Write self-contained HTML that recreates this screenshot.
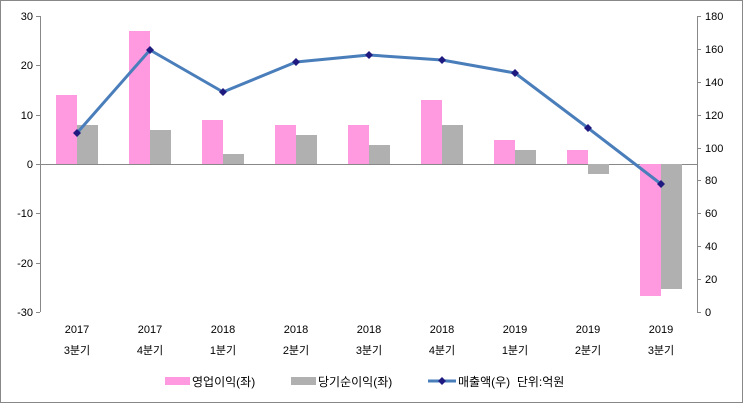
<!DOCTYPE html><html><head><style>body{margin:0;background:#fff}svg{display:block}text{font-family:"Liberation Sans","Noto Sans CJK KR",sans-serif;fill:#000}</style></head><body>
<svg width="743" height="403" viewBox="0 0 743 403">
<rect x="0.5" y="0.5" width="742" height="402" fill="#fff" stroke="#888"/>
<g stroke="#888" stroke-width="1">
<line x1="40.5" y1="16" x2="40.5" y2="312"/><line x1="697.5" y1="16" x2="697.5" y2="312"/>
<line x1="40" y1="164.5" x2="697" y2="164.5"/>
<line x1="36" y1="16.5" x2="40" y2="16.5"/><line x1="36" y1="65.5" x2="40" y2="65.5"/><line x1="36" y1="115.5" x2="40" y2="115.5"/><line x1="36" y1="164.5" x2="40" y2="164.5"/><line x1="36" y1="213.5" x2="40" y2="213.5"/><line x1="36" y1="263.5" x2="40" y2="263.5"/><line x1="36" y1="312.5" x2="40" y2="312.5"/>
<line x1="697" y1="16.5" x2="701" y2="16.5"/><line x1="697" y1="49.5" x2="701" y2="49.5"/><line x1="697" y1="82.5" x2="701" y2="82.5"/><line x1="697" y1="115.5" x2="701" y2="115.5"/><line x1="697" y1="148.5" x2="701" y2="148.5"/><line x1="697" y1="180.5" x2="701" y2="180.5"/><line x1="697" y1="213.5" x2="701" y2="213.5"/><line x1="697" y1="246.5" x2="701" y2="246.5"/><line x1="697" y1="279.5" x2="701" y2="279.5"/><line x1="697" y1="312.5" x2="701" y2="312.5"/>
</g>
<g font-size="11" text-anchor="end">
<text x="33" y="20">30</text><text x="33" y="69">20</text><text x="33" y="119">10</text><text x="33" y="168">0</text><text x="33" y="217">-10</text><text x="33" y="267">-20</text><text x="33" y="316">-30</text>
</g>
<g font-size="11" text-anchor="start">
<text x="705" y="20">180</text><text x="705" y="53">160</text><text x="705" y="86">140</text><text x="705" y="119">120</text><text x="705" y="152">100</text><text x="705" y="184">80</text><text x="705" y="217">60</text><text x="705" y="250">40</text><text x="705" y="283">20</text><text x="705" y="316">0</text>
</g>
<g fill="#ff99e0">
<rect x="56" y="95" width="21" height="69"/><rect x="129" y="31" width="21" height="133"/><rect x="202" y="120" width="21" height="44"/><rect x="275" y="125" width="21" height="39"/><rect x="348" y="125" width="21" height="39"/><rect x="421" y="100" width="21" height="64"/><rect x="494" y="140" width="21" height="24"/><rect x="567" y="150" width="21" height="14"/><rect x="640" y="164" width="21" height="132"/>
</g>
<g fill="#b0b0b0">
<rect x="77" y="125" width="21" height="39"/><rect x="150" y="130" width="21" height="34"/><rect x="223" y="154" width="21" height="10"/><rect x="296" y="135" width="21" height="29"/><rect x="369" y="145" width="21" height="19"/><rect x="442" y="125" width="21" height="39"/><rect x="515" y="150" width="21" height="14"/><rect x="588" y="164" width="21" height="10"/><rect x="661" y="164" width="21" height="125"/>
</g>
<polyline fill="none" stroke="#4a7ebb" stroke-width="3" stroke-linejoin="round" points="77,133 150,50 223,92 296,62 369,55 442,60 515,73 588,128 661,184"/>
<g fill="#1f1a80">
<path d="M77 129l4 4-4 4-4-4z"/><path d="M150 46l4 4-4 4-4-4z"/><path d="M223 88l4 4-4 4-4-4z"/><path d="M296 58l4 4-4 4-4-4z"/><path d="M369 51l4 4-4 4-4-4z"/><path d="M442 56l4 4-4 4-4-4z"/><path d="M515 69l4 4-4 4-4-4z"/><path d="M588 124l4 4-4 4-4-4z"/><path d="M661 180l4 4-4 4-4-4z"/>
</g>
<g font-size="11" text-anchor="middle">
<text x="77" y="333">2017</text><text x="150" y="333">2017</text><text x="223" y="333">2018</text><text x="296" y="333">2018</text><text x="369" y="333">2018</text><text x="442" y="333">2018</text><text x="515" y="333">2019</text><text x="588" y="333">2019</text><text x="661" y="333">2019</text>
<text x="77" y="354">3분기</text><text x="150" y="354">4분기</text><text x="223" y="354">1분기</text><text x="296" y="354">2분기</text><text x="369" y="354">3분기</text><text x="442" y="354">4분기</text><text x="515" y="354">1분기</text><text x="588" y="354">2분기</text><text x="661" y="354">3분기</text>
</g>
<rect x="165" y="377" width="25" height="8" fill="#ff99e0"/>
<text x="192" y="386" font-size="12">영업이익(좌)</text>
<rect x="291" y="377" width="25" height="8" fill="#b0b0b0"/>
<text x="318" y="386" font-size="12">당기순이익(좌)</text>
<line x1="428" y1="381" x2="456" y2="381" stroke="#4a7ebb" stroke-width="3"/>
<path d="M442 377l4 4-4 4-4-4z" fill="#1f1a80"/>
<text x="458" y="386" font-size="12">매출액(우)&#160; 단위:억원</text>
</svg></body></html>
